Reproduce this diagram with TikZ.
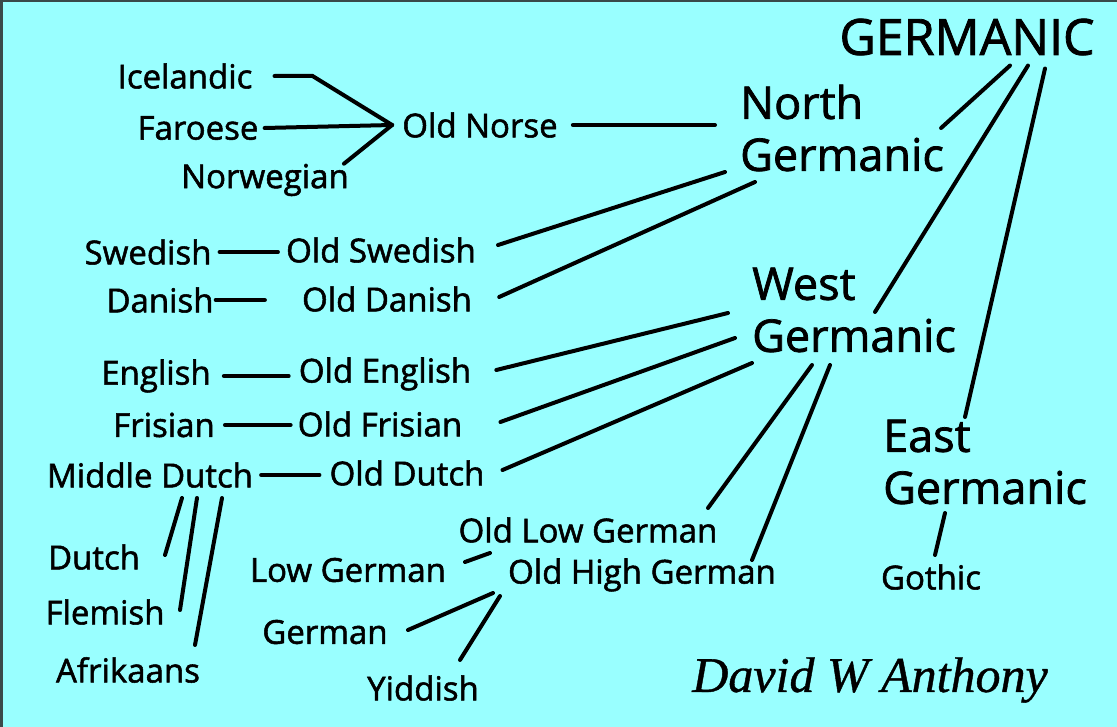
\documentclass[tikz,border=0pt]{standalone}
\usepackage{fontspec}
\setmainfont{Open Sans}
\newfontfamily\lblfont{Open Sans}[FakeBold=1.6]
\newfontfamily\sigfont{Liberation Serif}[ItalicFeatures={FakeBold=0.8}]
\usetikzlibrary{calc}
\definecolor{bgcyan}{HTML}{99FFFF}
\definecolor{edgegray}{HTML}{3A4A4A}
\tikzset{
  lbl/.style={inner sep=0pt, font=\lblfont\fontsize{33}{38}\selectfont},
  big/.style={inner sep=0pt, align=left, anchor=west, font=\lblfont\fontsize{45}{52}\selectfont},
  link/.style={line width=4pt, black, line cap=round},
}
\begin{document}
\begin{tikzpicture}[x=1pt,y=-1pt]
\fill[bgcyan] (0,0) rectangle (1117,727);
\useasboundingbox (0,0) rectangle (1117,727);
\draw[edgegray, line width=2.5pt] (1.25,727) -- (1.25,0.5) -- (1117,0.5);

% top
\node[inner sep=0pt, font=\lblfont\fontsize{50}{56}\selectfont] (germ) at (967,37) {GERMANIC};
\node[big] (ng) at (740,128) {North\\Germanic};
\node[big] (wg) at (752,310) {West\\Germanic};
\node[big] (eg) at (883,462) {East\\Germanic};

% north
\node[lbl] (ice) at (185,76) {Icelandic};
\node[lbl] (far) at (198,128) {Faroese};
\node[lbl] (nor) at (265,180) {Norwegian};
\node[lbl] (on) at (480,125) {Old Norse};
\node[lbl] (sw) at (148,252) {Swedish};
\node[lbl] (osw) at (381,250) {Old Swedish};
\node[lbl] (da) at (160,300) {Danish};
\node[lbl] (oda) at (387,299) {Old Danish};

% west
\node[lbl] (en) at (156,376) {English};
\node[lbl] (oen) at (385,374) {Old English};
\node[lbl] (fr) at (164,425) {Frisian};
\node[lbl] (ofr) at (380,424) {Old Frisian};
\node[lbl] (md) at (150,475) {Middle Dutch};
\node[lbl] (odu) at (407,473) {Old Dutch};
\node[lbl] (dut) at (94,557) {Dutch};
\node[lbl] (fle) at (105,612) {Flemish};
\node[lbl] (afr) at (128,670) {Afrikaans};
\node[lbl] (olg) at (588,530) {Old Low German};
\node[lbl] (lg) at (348,570) {Low German};
\node[lbl] (ohg) at (642,575) {Old High German};
\node[lbl] (ger) at (325,632) {German};
\node[lbl] (yid) at (423,688) {Yiddish};

% east
\node[lbl] (got) at (931,577) {Gothic};

% signature
\node[inner sep=0pt, font=\sigfont\itshape\fontsize{50}{56}\selectfont] (sig) at (870,680) {David W Anthony};

% Old Norse fan
\coordinate (apex) at ($(on.west)+(-10,0)$);
\draw[link, line join=miter] ([xshift=22pt]ice.east) -- ++(38,0) -- (apex);
\draw[link] ([xshift=6pt]far.east) -- (apex);
\draw[link] ([xshift=-5pt]nor.north east) -- (apex);
\draw[link, shorten <=15pt, shorten >=25pt] (on.east) -- (on.east -| ng.west);

% GERMANIC branches
\draw[link] ($(germ.south)+(43,10)$) -- ($(ng.east)+(-3,0)$);
\draw[link] ($(germ.south)+(61,10)$) -- ($(wg.west)+(123,2)$);
\draw[link] ($(germ.south)+(78,13)$) -- ($(eg.west)+(82,-45)$);

% North Germanic
\draw[link] ($(ng.west)+(-15,44)$) -- ($(osw.east)+(22,-5)$);
\draw[link] ($(ng.west)+(15,54)$) -- ($(oda.east)+(27,-2)$);
\draw[link, shorten <=8pt, shorten >=8pt] (sw.east) -- (osw.west |- sw.east);
\draw[link, shorten <=2pt, shorten >=37pt] (da.east) -- (oda.west |- da.east);

% West Germanic
\draw[link] ($(wg.west)+(-24,3)$) -- ($(oen.east)+(25,-4)$);
\draw[link] ($(wg.west)+(-17,28)$) -- ($(ofr.east)+(38,-2)$);
\draw[link] ($(wg.west)+(0,53)$) -- ($(odu.east)+(18,-3)$);
\draw[link] ($(wg.west)+(60,55)$) -- ($(olg.center)+(120,-22)$);
\draw[link] ($(wg.west)+(78,55)$) -- ($(ohg.center)+(110,-15)$);
\draw[link, shorten <=13pt, shorten >=10pt] (en.east) -- (oen.west |- en.east);
\draw[link, shorten <=10pt, shorten >=7pt] (fr.east) -- (ofr.west |- fr.east);
\draw[link, shorten <=8pt, shorten >=10pt] (md.east) -- (odu.west |- md.east);

% Middle Dutch descendants
\draw[link] ($(md.center)+(32,23)$) -- ($(dut.center)+(71,-2)$);
\draw[link] ($(md.center)+(47,23)$) -- ($(fle.center)+(75,-2)$);
\draw[link] ($(md.center)+(72,23)$) -- ($(afr.center)+(67,-25)$);

% Low / High German
\draw[link] ($(lg.center)+(117,-8)$) -- ($(olg.center)+(-98,23)$);
\draw[link] ($(ohg.center)+(-149,18)$) -- ($(ger.center)+(83,-2)$);
\draw[link] ($(ohg.center)+(-142,21)$) -- ($(yid.center)+(37,-28)$);

% East Germanic
\draw[link] ($(eg.west)+(62,51)$) -- ($(got.center)+(4,-22)$);
\end{tikzpicture}
\end{document}
